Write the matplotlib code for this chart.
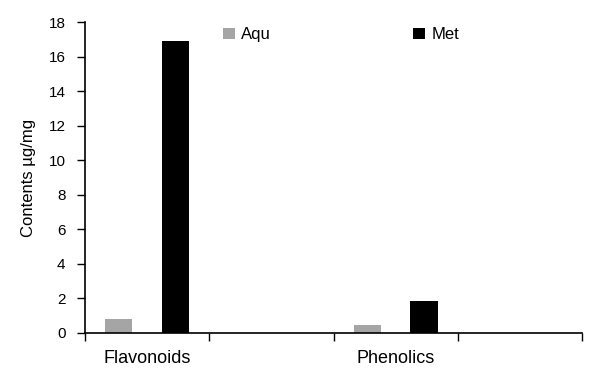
import numpy as np
import matplotlib
matplotlib.use("Agg")
import matplotlib.pyplot as plt

# data
categories = ["Flavonoids", "", "Phenolics", ""]
aqu = [0.8, 0, 0.45, 0]
met = [16.9, 0, 1.88, 0]
series_names = ["Aqu", "Met"]
yticks = list(range(0, 19, 2))

plt.rcParams["font.family"] = ["Liberation Sans", "DejaVu Sans"]

fig = plt.figure(figsize=(6.02, 3.69), dpi=100)
ax = fig.add_axes([0.141, 0.0976, 0.826, 0.842])

x = np.arange(len(categories))
w = 0.22
ax.bar(x - 0.227, aqu, width=w, color="#a5a5a5", label=series_names[0])
ax.bar(x + 0.227, met, width=w, color="black", label=series_names[1])

ax.set_xlim(-0.5, len(categories) - 0.5)
ax.set_ylim(0, 18)
ax.set_yticks(yticks)
ax.tick_params(axis="y", labelsize=11, length=6, width=1, pad=8)

# ticks at category boundaries, labels centred in the slots
ax.set_xticks(np.arange(len(categories) + 1) - 0.5)
ax.set_xticklabels([])
ax.tick_params(axis="x", which="major", length=6, width=1)
ax.set_xticks(x, minor=True)
ax.set_xticklabels(categories, minor=True, fontsize=13)
ax.tick_params(axis="x", which="minor", length=0, pad=12)

for s in ["top", "right"]:
    ax.spines[s].set_visible(False)
for s in ["left", "bottom"]:
    ax.spines[s].set_linewidth(1.2)

ax.set_ylabel("Contents µg/mg", fontsize=12, labelpad=9)

ax.legend(ncol=2, loc="upper left", bbox_to_anchor=(0.247, 1.032), frameon=False,
          fontsize=12, handlelength=0.72, handleheight=0.72, handletextpad=0.4,
          columnspacing=8.5)

fig.savefig("out.png", dpi=100)
